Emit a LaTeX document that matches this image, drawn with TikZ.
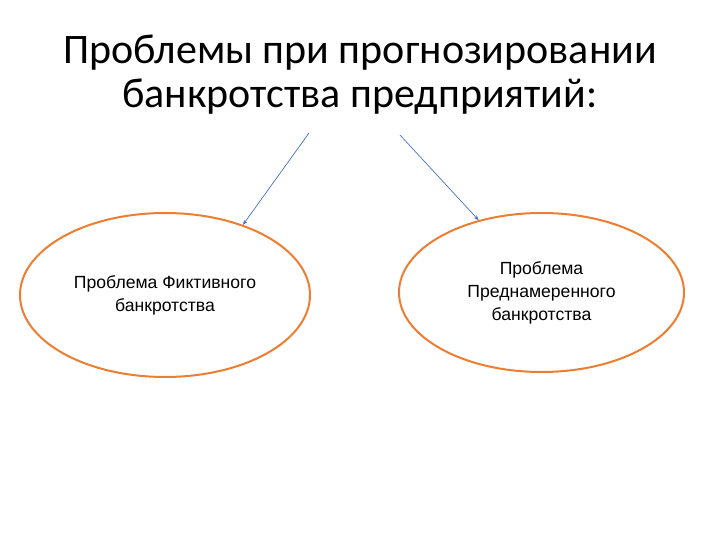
\documentclass[tikz,border=0pt]{standalone}
\usepackage{fontspec}
\setmainfont{Liberation Sans}
\newfontfamily\titlefont{Carlito}
\usetikzlibrary{shapes.geometric,arrows.meta}
\definecolor{ellorange}{RGB}{237,125,49}
\definecolor{arrblue}{RGB}{68,114,196}
\tikzset{
  probl/.style={ellipse,draw=ellorange,line width=2pt,inner sep=0pt,align=center,font=\fontsize{17.6}{23}\selectfont},
  arr/.style={draw=arrblue,line width=0.7pt,-{Stealth[length=5pt,width=4pt]}}
}
\begin{document}
\begin{tikzpicture}[x=1pt,y=-1pt]
\useasboundingbox (0,0) rectangle (720,540);
\node[font=\titlefont\fontsize{42}{44}\selectfont,align=center] (title) at (360,75) {Проблемы при прогнозировании\\банкротства предприятий:};
\node[probl,minimum width=290pt,minimum height=164pt] (L) at (165,295) {Проблема Фиктивного\\банкротства};
\node[probl,minimum width=285pt,minimum height=159pt] (R) at (541.5,292.5) {Проблема\\Преднамеренного\\банкротства};
\coordinate (s1) at (309,133);
\coordinate (s2) at (400,135);
\draw[arr] (s1) -- (L.42.6);
\draw[arr] (s2) -- (R.131.2);
\end{tikzpicture}
\end{document}
